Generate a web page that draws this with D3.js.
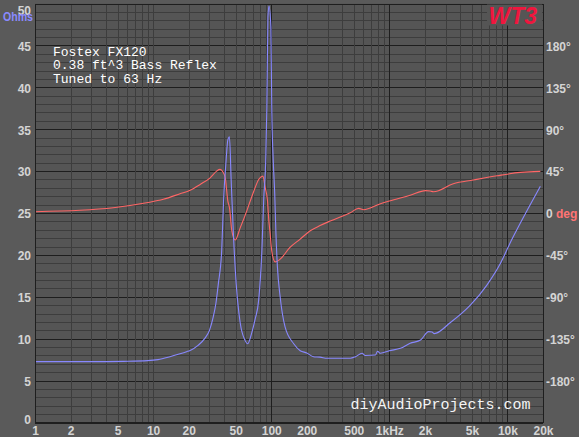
<!DOCTYPE html>
<html>
<head>
<meta charset="utf-8">
<script src="https://cdn.jsdelivr.net/npm/d3@7"></script>
<style>
  html, body { margin: 0; padding: 0; background: #5a5a5a; }
  .tick text { font-family: "Liberation Sans", Arial, sans-serif; font-weight: bold; font-size: 12px; fill: #d4d4d4; }
</style>
</head>
<body>
<div id="chart"></div>
<script>
// impedance curve (Ohms)
const zFreq = [1, 3, 5.6, 9, 11, 13.9, 16.9, 19.2, 20.6, 24, 27.6, 30, 32.3, 34, 35.7, 38.1, 39.5, 41.5, 42.9, 44.3,
  45.8, 47.8, 50.5, 54.6, 60, 63.2, 68.4, 73, 78.3, 83.4, 86.3, 90, 91.8, 93.8, 95.7, 99.4, 101, 103.7, 107, 109.6,
  112.8, 119, 131, 155, 176, 200, 228, 259, 297, 467, 517, 588, 625, 762, 795, 841, 1000, 1240, 1500, 1840,
  2150, 2300, 2400, 3270, 4850, 6700, 8730, 10680, 12860, 15250, 19000];
const zOhms = [7.26, 7.26, 7.3, 7.38, 7.5, 7.85, 8.2, 8.45, 8.6, 9.2, 10.1, 11.0, 12.6, 14.2, 16.6, 20.6, 26.5, 31.3, 33.7, 34.1,
  28.9, 22.6, 16.6, 11.9, 9.8, 9.4, 10.7, 12.3, 14.6, 20.6, 26.5, 31.7, 37.6, 48.4, 49.7, 47.2, 37.6, 31.7, 27.4, 22.6,
  18.6, 15.0, 11.4, 9.4, 8.57, 8.3, 7.85, 7.8, 7.66, 7.66, 7.85, 8.26, 8.0, 8.05, 8.5, 8.26, 8.57, 8.85, 9.45, 9.84,
  10.85, 10.8, 10.6, 11.9, 14.0, 16.4, 19.0, 21.6, 23.8, 25.75, 28.2];

// phase curve (degrees)
const pFreq = [1, 2.4, 4.6, 8.8, 12.2, 16.9, 20.6, 25, 30.4, 34.5, 36.9, 39, 40.8, 42.9, 44.3, 46.4, 49.5, 54.6, 62, 66.5,
  71.3, 78.3, 85, 89, 93, 95, 98, 101, 108, 119, 144, 176, 214, 259, 316, 467, 550, 605, 841, 1000,
  1500, 2030, 2220, 2370, 3480, 5130, 8190, 12860, 19000];
const pDeg = [1.4, 2.9, 5.7, 11, 14.7, 20.7, 24.5, 30.7, 37.8, 45, 46.8, 44, 38, 13, 5.7, -19, -29, -16, 2, 13,
  23.6, 36, 39.6, 27, 13, -5, -22.5, -40.7, -52.5, -49.6, -37, -28, -19, -13.5, -8.6, 0.3, 5, 3.5, 10, 12.9,
  19, 24, 23.6, 22.8, 31.4, 35.4, 40, 43.6, 44.7];

// axis ticks
const xTicks = [1, 2, 5, 10, 20, 50, 100, 200, 500, 1000, 2000, 5000, 10000, 20000];
const xLabels = ["1", "2", "5", "10", "20", "50", "100", "200", "500", "1kHz", "2k", "5k", "10k", "20k"];
const ohmTicks = [0, 5, 10, 15, 20, 25, 30, 35, 40, 45, 50];
const degTicks = [-180, -135, -90, -45, 0, 45, 90, 135, 180];
const notes = ["Fostex FX120", "0.38 ft^3 Bass Reflex", "Tuned to 63 Hz"];

const outerWidth = 579;
const outerHeight = 437;
const margin = {top: 3.5, right: 36, bottom: 14.5, left: 35};
const innerWidth = outerWidth - margin.left - margin.right;
const innerHeight = outerHeight - margin.top - margin.bottom;

const SVG = d3.select("#chart").append("svg")
  .attr("width", outerWidth)
  .attr("height", outerHeight);
SVG.append("rect").attr("width", outerWidth).attr("height", outerHeight).attr("fill", "#5a5a5a");

const svg = SVG.append("g")
  .attr("transform", "translate(" + margin.left + "," + margin.top + ")");

const xScale = d3.scaleLog().domain([1, 20000]).range([0, innerWidth]);
const yScale = d3.scaleLinear().domain([0, 50]).range([innerHeight, 0]);
const pScale = d3.scaleLinear().domain([-225, 225]).range([innerHeight, 0]);

svg.append("rect")
  .attr("width", innerWidth).attr("height", innerHeight)
  .attr("fill", "#555555");

// grid
const gridX = [];
for (let d = 1; d <= 10000; d *= 10) {
  for (let m = 1; m <= 9; m++) {
    if (d * m <= 20000) gridX.push(d * m);
  }
}
gridX.push(20000);
const gridY = d3.range(0, 51);

svg.append("g").selectAll("line")
  .data(gridY).enter().append("line")
  .attr("x1", 0).attr("x2", innerWidth)
  .attr("y1", d => Math.round(yScale(d) + margin.top) - margin.top + 0.5)
  .attr("y2", d => Math.round(yScale(d) + margin.top) - margin.top + 0.5)
  .attr("stroke", d => d % 5 == 0 ? "#1e1e1e" : "#3d3d3d")
  .attr("shape-rendering", "crispEdges");

svg.append("g").selectAll("line")
  .data(gridX).enter().append("line")
  .attr("y1", 0).attr("y2", innerHeight)
  .attr("x1", d => Math.round(xScale(d)) + 0.5)
  .attr("x2", d => Math.round(xScale(d)) + 0.5)
  .attr("stroke", d => (d == 1 || d == 100 || d == 1000 || d == 10000 || d == 20000) ? "#1e1e1e" : "#3d3d3d")
  .attr("shape-rendering", "crispEdges");

// curves
const phaseLine = d3.line()
  .x((d, i) => xScale(pFreq[i]))
  .y(d => pScale(d))
  .curve(d3.curveMonotoneX);
const ohmLine = d3.line()
  .x((d, i) => xScale(zFreq[i]))
  .y(d => yScale(d))
  .curve(d3.curveMonotoneX);

svg.append("path")
  .attr("d", phaseLine(pDeg))
  .attr("fill", "none")
  .attr("stroke", "#ff6666")
  .attr("stroke-width", 1.1);

svg.append("path")
  .attr("d", ohmLine(zOhms))
  .attr("fill", "none")
  .attr("stroke", "#8888ff")
  .attr("stroke-width", 1.1);

// axes
const xAxis = d3.axisBottom(xScale)
  .tickValues(xTicks)
  .tickFormat((d, i) => xLabels[i])
  .tickSize(0)
  .tickPadding(4);
svg.append("g")
  .attr("transform", "translate(0," + innerHeight + ")")
  .call(xAxis)
  .call(g => g.select(".domain").remove());

const yAxis = d3.axisLeft(yScale)
  .tickValues(ohmTicks)
  .tickSize(0)
  .tickPadding(4);
const yAxisGroup = svg.append("g").call(yAxis);
yAxisGroup.select(".domain").remove();
yAxisGroup.selectAll(".tick text")
  .attr("dy", d => d == 50 ? "0.95em" : d == 0 ? "0.1em" : "0.4em");

const pAxis = d3.axisRight(pScale)
  .tickValues(degTicks)
  .tickFormat(d => d == 0 ? "0" : d + "°")
  .tickSize(0)
  .tickPadding(3);
const pAxisGroup = svg.append("g")
  .attr("transform", "translate(" + innerWidth + ",0)")
  .call(pAxis);
pAxisGroup.select(".domain").remove();
pAxisGroup.selectAll(".tick text").attr("dy", "0.4em");
pAxisGroup.selectAll(".tick")
  .filter(d => d == 0)
  .select("text")
  .append("tspan")
  .attr("fill", "#ff7474")
  .text(" deg");

svg.append("text")
  .attr("x", -32).attr("y", 17)
  .attr("font-family", "Liberation Sans, Arial, sans-serif")
  .attr("font-weight", "bold")
  .attr("font-size", 12.5)
  .attr("textLength", 30)
  .attr("lengthAdjust", "spacingAndGlyphs")
  .attr("fill", "#8a8aff")
  .text("Ohms");

// frame
svg.append("rect")
  .attr("x", 0.5).attr("y", 0.5)
  .attr("width", innerWidth).attr("height", innerHeight - 1)
  .attr("fill", "none")
  .attr("stroke", "#1e1e1e")
  .attr("shape-rendering", "crispEdges");

// notes
svg.append("g").selectAll("text")
  .data(notes).enter().append("text")
  .attr("x", 18)
  .attr("y", (d, i) => 52.5 + i * 13.3)
  .attr("font-family", "Liberation Mono, monospace")
  .attr("font-size", 13)
  .attr("fill", "#ffffff")
  .attr("xml:space", "preserve")
  .text(d => d);

svg.append("text")
  .attr("x", 315.5).attr("y", 405.5)
  .attr("font-family", "Liberation Mono, monospace")
  .attr("font-size", 15)
  .attr("fill", "#f4f4f4")
  .text("diyAudioProjects.com");

svg.append("rect")
  .attr("x", 452).attr("y", 1)
  .attr("width", innerWidth - 453).attr("height", 21)
  .attr("fill", "#555555");
svg.append("text")
  .attr("x", 453.5).attr("y", 20.5)
  .attr("font-family", "Liberation Sans, Arial, sans-serif")
  .attr("font-weight", "bold")
  .attr("font-style", "italic")
  .attr("font-size", 23)
  .attr("fill", "#f0163e")
  .text("WT3");
</script>
</body>
</html>
